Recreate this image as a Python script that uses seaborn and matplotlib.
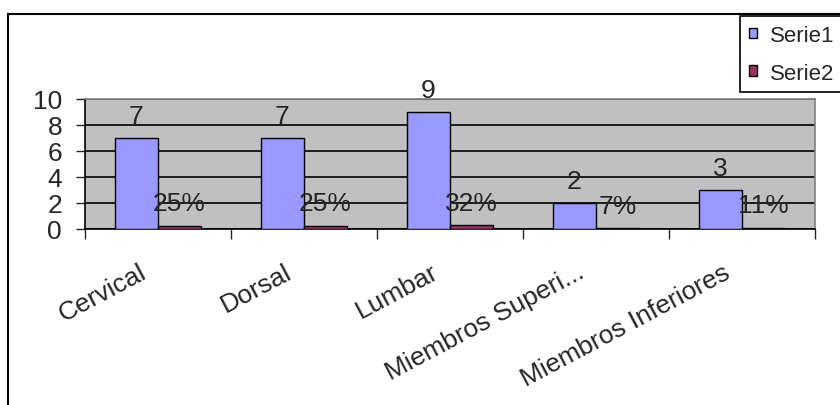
import pandas as pd
import seaborn as sns
import matplotlib.pyplot as plt
import matplotlib.transforms as mtransforms
from matplotlib.patches import Patch, Rectangle

categories = ['Cervical', 'Dorsal', 'Lumbar', 'Miembros Superi...', 'Miembros Inferiores']
serie1 = [7, 7, 9, 2, 3]
serie2 = [0.25, 0.25, 0.32, 0.07, 0.11]
serie1_labels = ['7', '7', '9', '2', '3']
serie2_labels = ['25%', '25%', '32%', '7%', '11%']
series = ['Serie1', 'Serie2']
colors = ['#9999FF', '#993366']

sns.set_style('white')
plt.rcParams['font.family'] = ['Liberation Sans', 'DejaVu Sans']
plt.rcParams['font.size'] = 19

data = pd.DataFrame({
    'cat': categories * 2,
    'value': serie1 + serie2,
    'serie': ['Serie1'] * 5 + ['Serie2'] * 5,
})

fig = plt.figure(figsize=(8.4, 4.06), dpi=100)
ax = fig.add_axes([85 / 840, 1 - 230 / 406, 730 / 840, 130 / 406])
ax.set_facecolor('#C0C0C0')

sns.barplot(data=data, x='cat', y='value', hue='serie', order=categories,
            hue_order=series, palette=colors, width=0.59, edgecolor='black',
            linewidth=1, saturation=1, ax=ax, legend=False, zorder=3)

# value labels
for cont, labels in zip(ax.containers, [serie1_labels, serie2_labels]):
    for bar, lab in zip(cont, labels):
        ax.annotate(lab, (bar.get_x() + bar.get_width() / 2, bar.get_height()),
                    xytext=(0, 11), textcoords='offset points',
                    ha='center', va='baseline', fontsize=19, zorder=5)

ax.set_ylim(0, 10)
ax.set_yticks(range(0, 11, 2))
ax.yaxis.grid(True, color='black', linewidth=1.2, zorder=1)
ax.set_axisbelow(True)
ax.tick_params(axis='y', direction='out', length=6.5, width=1, pad=10,
               left=True, labelsize=19)

ax.set_xlim(-0.5, 4.5)
ax.set_xticks([i - 0.5 for i in range(6)])
ax.set_xticklabels([])
ax.set_xticks(range(5), minor=True)
ax.set_xticklabels(categories, minor=True, rotation=28, ha='right', va='top')
ax.tick_params(axis='x', which='major', direction='out', length=7, width=1, bottom=True)
ax.tick_params(axis='x', which='minor', length=0, pad=22, labelsize=19)
offset = mtransforms.ScaledTranslation(-8 / 100, 0, fig.dpi_scale_trans)
for lab in ax.get_xticklabels(minor=True):
    lab.set_transform(lab.get_transform() + offset)

ax.set_xlabel('')
ax.set_ylabel('')
for side in ['left', 'bottom']:
    ax.spines[side].set_color('black')
    ax.spines[side].set_linewidth(1.2)
for side in ['top', 'right']:
    ax.spines[side].set_color('#808080')
    ax.spines[side].set_linewidth(1.2)

handles = [Patch(facecolor=c, edgecolor='black', linewidth=1) for c in colors]
leg = fig.legend(handles, series, loc='upper left',
                 bbox_to_anchor=(740 / 840, 1 - 17 / 406), borderaxespad=0,
                 frameon=True, fancybox=False, framealpha=1, edgecolor='black',
                 handlelength=0.36, handleheight=0.36, handletextpad=0.6,
                 borderpad=0.4, labelspacing=0.75, fontsize=16)
leg.get_frame().set_linewidth(1.2)

fig.add_artist(Rectangle((8 / 840, -0.2), 2, 1.2 - 15 / 406, fill=False,
                         edgecolor='black', linewidth=1.5,
                         transform=fig.transFigure, clip_on=False))

fig.savefig('out.png', dpi=100)
